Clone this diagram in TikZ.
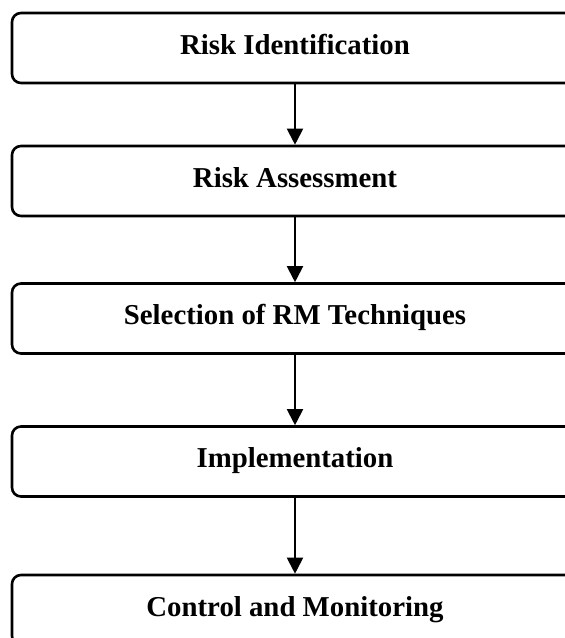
\documentclass[tikz,border=0pt]{standalone}
\usepackage{fontspec}
\setmainfont{Liberation Serif}
\usetikzlibrary{arrows.meta}
\tikzset{
  stage/.style={draw, line width=1.3pt, rounded corners=4.5pt, minimum width=283pt,
    minimum height=35pt, inner sep=0pt, font=\fontsize{14.4}{17}\selectfont\bfseries,
    text height=10pt, text depth=3.6pt},
  flow/.style={-{Triangle[length=8pt,width=8pt]}, line width=1pt}
}
\begin{document}
\begin{tikzpicture}[x=0.5pt,y=-0.5pt]
\useasboundingbox (0,0) rectangle (565,638);
\clip (0,0) rectangle (565,638);
\node[stage] (ident) at (295,48) {Risk Identification};
\node[stage] (assess) at (295,181) {Risk Assessment};
\node[stage] (select) at (295,318.5) {Selection of RM Techniques};
\node[stage] (impl) at (295,461.5) {Implementation};
\node[stage] (control) at (295,610) {Control and Monitoring};
\draw[flow] (ident) -- (assess);
\draw[flow] (assess) -- (select);
\draw[flow] (select) -- (impl);
\draw[flow] (impl) -- (control);
\end{tikzpicture}
\end{document}
